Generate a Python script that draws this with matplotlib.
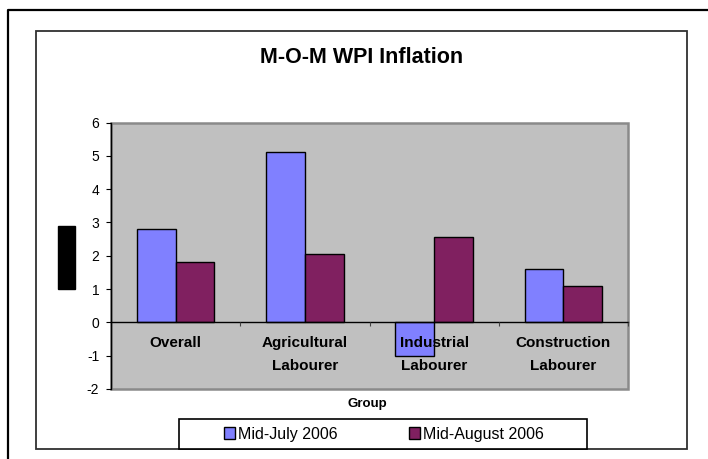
import matplotlib
matplotlib.use("Agg")
import matplotlib.pyplot as plt
from matplotlib.patches import Rectangle
from matplotlib.lines import Line2D
import numpy as np

categories = ["Overall", "Agricultural\nLabourer", "Industrial\nLabourer", "Construction\nLabourer"]
series_names = ["Mid-July 2006", "Mid-August 2006"]
mid_july = [2.8, 5.1, -1.0, 1.6]
mid_august = [1.8, 2.05, 2.55, 1.1]
yticks = [-2, -1, 0, 1, 2, 3, 4, 5, 6]

plt.rcParams['font.family'] = ['Liberation Sans', 'DejaVu Sans']
plt.rcParams['axes.unicode_minus'] = False

fig = plt.figure(figsize=(7.08, 4.59), dpi=100)
fig.patch.set_facecolor('white')

# outer frame (left and top only)
fig.add_artist(Line2D([8/708, 8/708, 1.0], [0.0, 1-10/459, 1-10/459],
                      transform=fig.transFigure, color='black', lw=1.6))
# inner chart border
fig.add_artist(Rectangle((36/708, 1-449/459), (687-36)/708, (449-31)/459,
                         transform=fig.transFigure, fill=False,
                         edgecolor='#303030', lw=1.3))

ax = fig.add_axes([111/708, 1-389/459, (628-111)/708, (389-122.5)/459])
ax.set_facecolor('#C0C0C0')

x = np.arange(len(categories))
w = 0.3
ax.bar(x - w/2, mid_july, w, color='#8080FF', edgecolor='black', lw=1.0,
       label=series_names[0], zorder=2)
ax.bar(x + w/2, mid_august, w, color='#802060', edgecolor='black', lw=1.0,
       label=series_names[1], zorder=2)

ax.set_xlim(-0.5, 3.5)
ax.set_ylim(-2, 6)
ax.set_yticks(yticks)
ax.tick_params(axis='y', direction='out', length=3.5, width=0.8, pad=5,
               labelsize=10, colors='black')

for s in ['top', 'right']:
    ax.spines[s].set_visible(False)
ax.spines['left'].set_color('black')
ax.spines['left'].set_linewidth(1.0)
ax.spines['bottom'].set_position(('data', 0))
ax.spines['bottom'].set_color('black')
ax.spines['bottom'].set_linewidth(1.0)

# gray plot-area frame
ax.add_patch(Rectangle((0, 0), 1, 1, transform=ax.transAxes, fill=False,
                       edgecolor='#8A8A8A', lw=1.8, clip_on=False, zorder=0.5))

ax.set_xticks([0.5, 1.5, 2.5, 3.5])
ax.set_xticklabels([])
ax.tick_params(axis='x', which='major', direction='out', length=3, width=0.8,
               colors='#444444')
ax.set_xticks(x, minor=True)
ax.set_xticklabels(categories, minor=True, fontsize=11, fontweight='bold',
                   linespacing=1.75)
ax.tick_params(axis='x', which='minor', length=0, pad=10)
ax.xaxis.set_zorder(5)

# y label box (black block)
fig.add_artist(Rectangle((58/708, 1-289/459), 17/708, 63/459,
                         transform=fig.transFigure, facecolor='black',
                         edgecolor='black'))

fig.text(362/708, 1-57.5/459, "M-O-M WPI Inflation", ha='center', va='center',
         fontsize=15.5, fontweight='bold')
fig.text(367/708, 1-404/459, "Group", ha='center', va='center',
         fontsize=9.5, fontweight='bold')

# legend box
fig.add_artist(Rectangle((179/708, 1-449/459), (587-179)/708, 30/459,
                         transform=fig.transFigure, facecolor='white',
                         edgecolor='black', lw=1.2, zorder=3))
handles, labels = ax.get_legend_handles_labels()
leg = fig.legend(handles, labels, loc='center', ncol=2,
                 bbox_to_anchor=(384/708, 1-434/459), frameon=False,
                 fontsize=11.5, handlelength=0.7, handleheight=0.7,
                 handletextpad=0.15, columnspacing=4.5, borderpad=0)
leg.set_zorder(4)

fig.savefig("out.png", dpi=100)
